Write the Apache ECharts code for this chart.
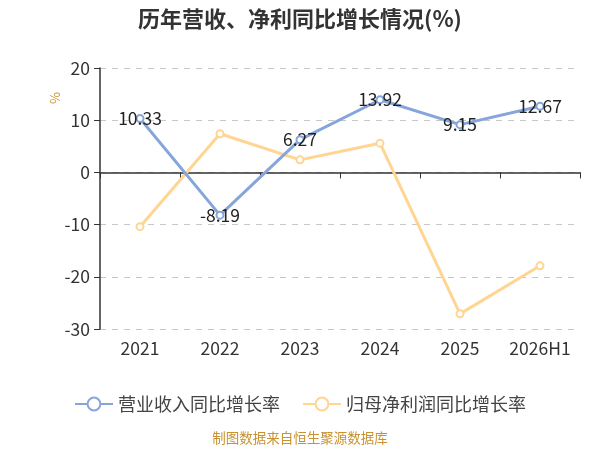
<!DOCTYPE html>
<html>
<head>
<meta charset="utf-8">
<script src="https://cdn.jsdelivr.net/npm/echarts@6/dist/echarts.min.js"></script>
<style>
    html, body { margin: 0; padding: 0; background: #fff; }
    #main { width: 600px; height: 450px; }
</style>
</head>
<body>
<div id="main"></div>
<script>
const years = ["2021", "2022", "2023", "2024", "2025", "2026H1"];
const revenueGrowth = [10.33, -8.19, 6.27, 13.92, 9.15, 12.67];
const profitGrowth = [-10.4, 7.4, 2.4, 5.6, -27.1, -17.9];
const yTicks = { min: -30, max: 20, interval: 10 };

const chart = echarts.init(document.querySelector("#main"));
const font = "'Noto Sans CJK SC', 'Noto Sans', sans-serif";

let option = {
    textStyle: { fontFamily: font },
    title: {
        text: "历年营收、净利同比增长情况(%)",
        left: "center",
        top: 3,
        textStyle: { fontSize: 22, fontWeight: "bold", color: "#333", fontFamily: font },
    },
    grid: { left: 100, right: 20, top: 68, bottom: 121 },
    legend: {
        bottom: 32,
        left: "center",
        itemWidth: 38,
        itemHeight: 16,
        itemGap: 22,
        textStyle: { fontSize: 18, color: "#444", fontFamily: font },
        data: ["营业收入同比增长率", "归母净利润同比增长率"],
    },
    graphic: [
        {
            type: "text",
            left: "center",
            top: 431,
            style: { text: "制图数据来自恒生聚源数据库", fill: "#c8922e", fontSize: 13.5, fontFamily: font },
        },
        {
            type: "text",
            x: 49,
            y: 104,
            rotation: Math.PI / 2,
            style: { text: "%", fill: "#c8922e", fontSize: 13, fontFamily: font },
        },
    ],
    xAxis: [
        {
            type: "category",
            data: years,
            axisLine: { onZero: true, lineStyle: { color: "#333", width: 1.5 } },
            axisTick: { show: true, length: 6, lineStyle: { color: "#333" } },
            axisLabel: { show: false },
        },
        {
            type: "category",
            data: years,
            position: "bottom",
            axisLine: { show: false, onZero: false },
            axisTick: { show: false },
            axisLabel: { fontSize: 17.5, color: "#333", margin: 11, fontFamily: font },
        },
    ],
    yAxis: {
        type: "value",
        min: yTicks.min,
        max: yTicks.max,
        interval: yTicks.interval,
        axisLine: { show: true, lineStyle: { color: "#333", width: 1.5 } },
        axisTick: { show: true, length: 6, lineStyle: { color: "#333" } },
        axisLabel: { fontSize: 17.5, color: "#333", margin: 10, fontFamily: font },
        splitLine: { lineStyle: { type: [6, 6], color: "#c8c8c8" } },
    },
    series: [
        {
            name: "营业收入同比增长率",
            type: "line",
            data: revenueGrowth,
            symbol: "emptyCircle",
            symbolSize: 7,
            color: "#86a6db",
            lineStyle: { width: 3 },
            z: 3,
            label: {
                show: true,
                position: "inside",
                fontSize: 17.5,
                color: "#222",
                fontFamily: font,
            },
        },
        {
            name: "归母净利润同比增长率",
            type: "line",
            data: profitGrowth,
            symbol: "emptyCircle",
            symbolSize: 7,
            color: "#ffd591",
            lineStyle: { width: 3 },
            z: 2,
        },
    ],
};
chart.setOption(option);
</script>
</body>
</html>
